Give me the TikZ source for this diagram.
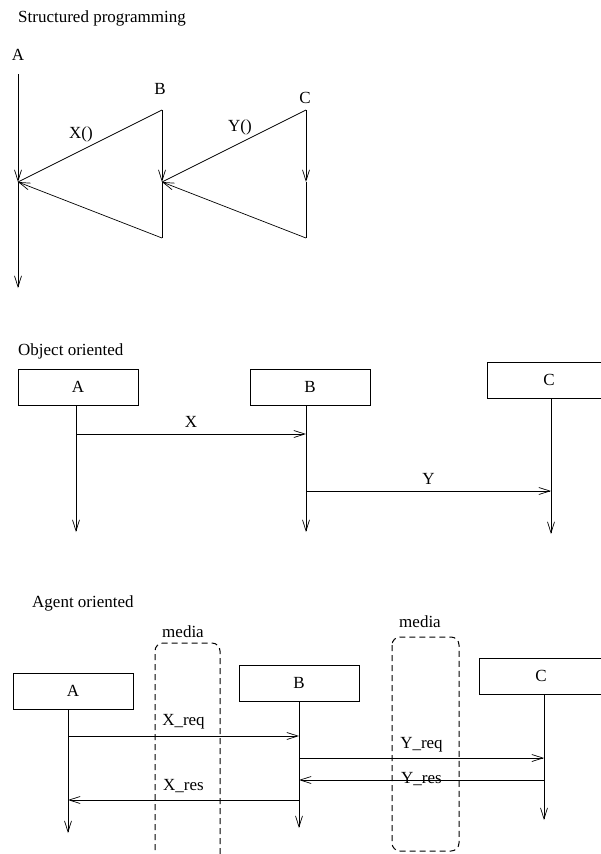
\documentclass[tikz,border=0pt]{standalone}
\usepackage{fontspec}
\setmainfont{Liberation Serif}
\usetikzlibrary{arrows.meta}
\begin{document}
\begin{tikzpicture}[x=1pt,y=-1pt,
  every node/.style={font=\fontsize{17}{20}\selectfont, inner sep=0pt},
  ln/.style={line width=0.7pt},
  arr/.style={ln,-{Straight Barb[length=11pt,width=7pt,line width=0.7pt]}},
  obj/.style={draw,line width=0.7pt,minimum width=120pt,minimum height=36pt},
  wideobj/.style={draw,line width=0.7pt,minimum width=130pt,minimum height=36pt},
  media/.style={line width=1pt,dash pattern=on 6pt off 4pt,rounded corners=8pt},
  title/.style={anchor=west}]
\useasboundingbox (0,0) rectangle (600,854);

% ---------- Structured programming ----------
\node[title] (t1) at (18,18) {Structured programming};
\node (la) at (18,55) {A};
\node (lb) at (160,89) {B};
\node (lc) at (305,98) {C};
\coordinate (a0) at (18,74);
\coordinate (am) at (18,182);
\coordinate (a1) at (18,288);
\coordinate (b0) at (162,110);
\coordinate (bm) at (162,182);
\coordinate (b1) at (162,238);
\coordinate (c0) at (306,110);
\coordinate (cm) at (306,182);
\coordinate (c1) at (306,238);
\draw[arr] (a0) -- (am);
\draw[arr] (am) -- (a1);
\draw[ln] (am) -- (b0);
\draw[arr] (b0) -- (bm);
\draw[ln] (bm) -- (b1);
\draw[arr] (b1) -- (am);
\draw[ln] (bm) -- (c0);
\draw[arr] (c0) -- (cm);
\draw[ln] (cm) -- (c1);
\draw[arr] (c1) -- (bm);
\node (x1) at (81,134) {X()};
\node (y1) at (240,127) {Y()};

% ---------- Object oriented ----------
\node[title] (t2) at (18,351) {Object oriented};
\node[obj] (oa) at (78,387) {A};
\node[obj] (ob) at (310,387) {B};
\node[wideobj] (oc) at (552,380) {};
\node (oct) at (549,380) {C};
\coordinate (oa0) at (76,405);
\coordinate (oax) at (76,434);
\coordinate (oa1) at (76,532);
\coordinate (ob0) at (306,405);
\coordinate (obx) at (306,434);
\coordinate (oby) at (306,491);
\coordinate (ob1) at (306,532);
\coordinate (oc0) at (551,398);
\coordinate (ocy) at (551,491);
\coordinate (oc1) at (551,534);
\draw[arr] (oa0) -- (oa1);
\draw[arr] (ob0) -- (ob1);
\draw[arr] (oc0) -- (oc1);
\draw[arr] (oax) -- node[above=6pt] (lx) {X} (obx);
\draw[arr] (oby) -- node[above=6pt] (ly) {Y} (ocy);

% ---------- Agent oriented ----------
\node[title] (t3) at (32,603) {Agent oriented};
\node (m1) at (183,632) {media};
\node (m2) at (420,622) {media};
\draw[media] (155,870) -- (155,643) -- (220,643) -- (220,870);
\draw[media] (392,637) rectangle (459,851);
\node[obj] (ga) at (73,691) {A};
\node[obj] (gb) at (299,683) {B};
\node[wideobj] (gc) at (544,676) {};
\node (gct) at (541,676) {C};
\coordinate (ga0) at (68,710);
\coordinate (ga1) at (68,736);
\coordinate (ga4) at (68,800);
\coordinate (gae) at (68,833);
\coordinate (gb0) at (299,702);
\coordinate (gb1) at (299,736);
\coordinate (gb2) at (299,758);
\coordinate (gb3) at (299,780);
\coordinate (gb4) at (299,800);
\coordinate (gbe) at (299,828);
\coordinate (gc0) at (544,695);
\coordinate (gc2) at (544,758);
\coordinate (gc3) at (544,780);
\coordinate (gce) at (544,820);
\draw[arr] (ga0) -- (gae);
\draw[arr] (gb0) -- (gbe);
\draw[arr] (gc0) -- (gce);
\draw[arr] (ga1) -- node[above=7pt] (lxq) {X\_req} (gb1);
\draw[arr] (gb2) -- node[above=6pt] (lyq) {Y\_req} (gc2);
\draw[arr] (gc3) -- node[anchor=base,yshift=-3pt] (lys) {Y\_res} (gb3);
\draw[arr] (gb4) -- node[above=7pt] (lxs) {X\_res} (ga4);
\end{tikzpicture}
\end{document}
